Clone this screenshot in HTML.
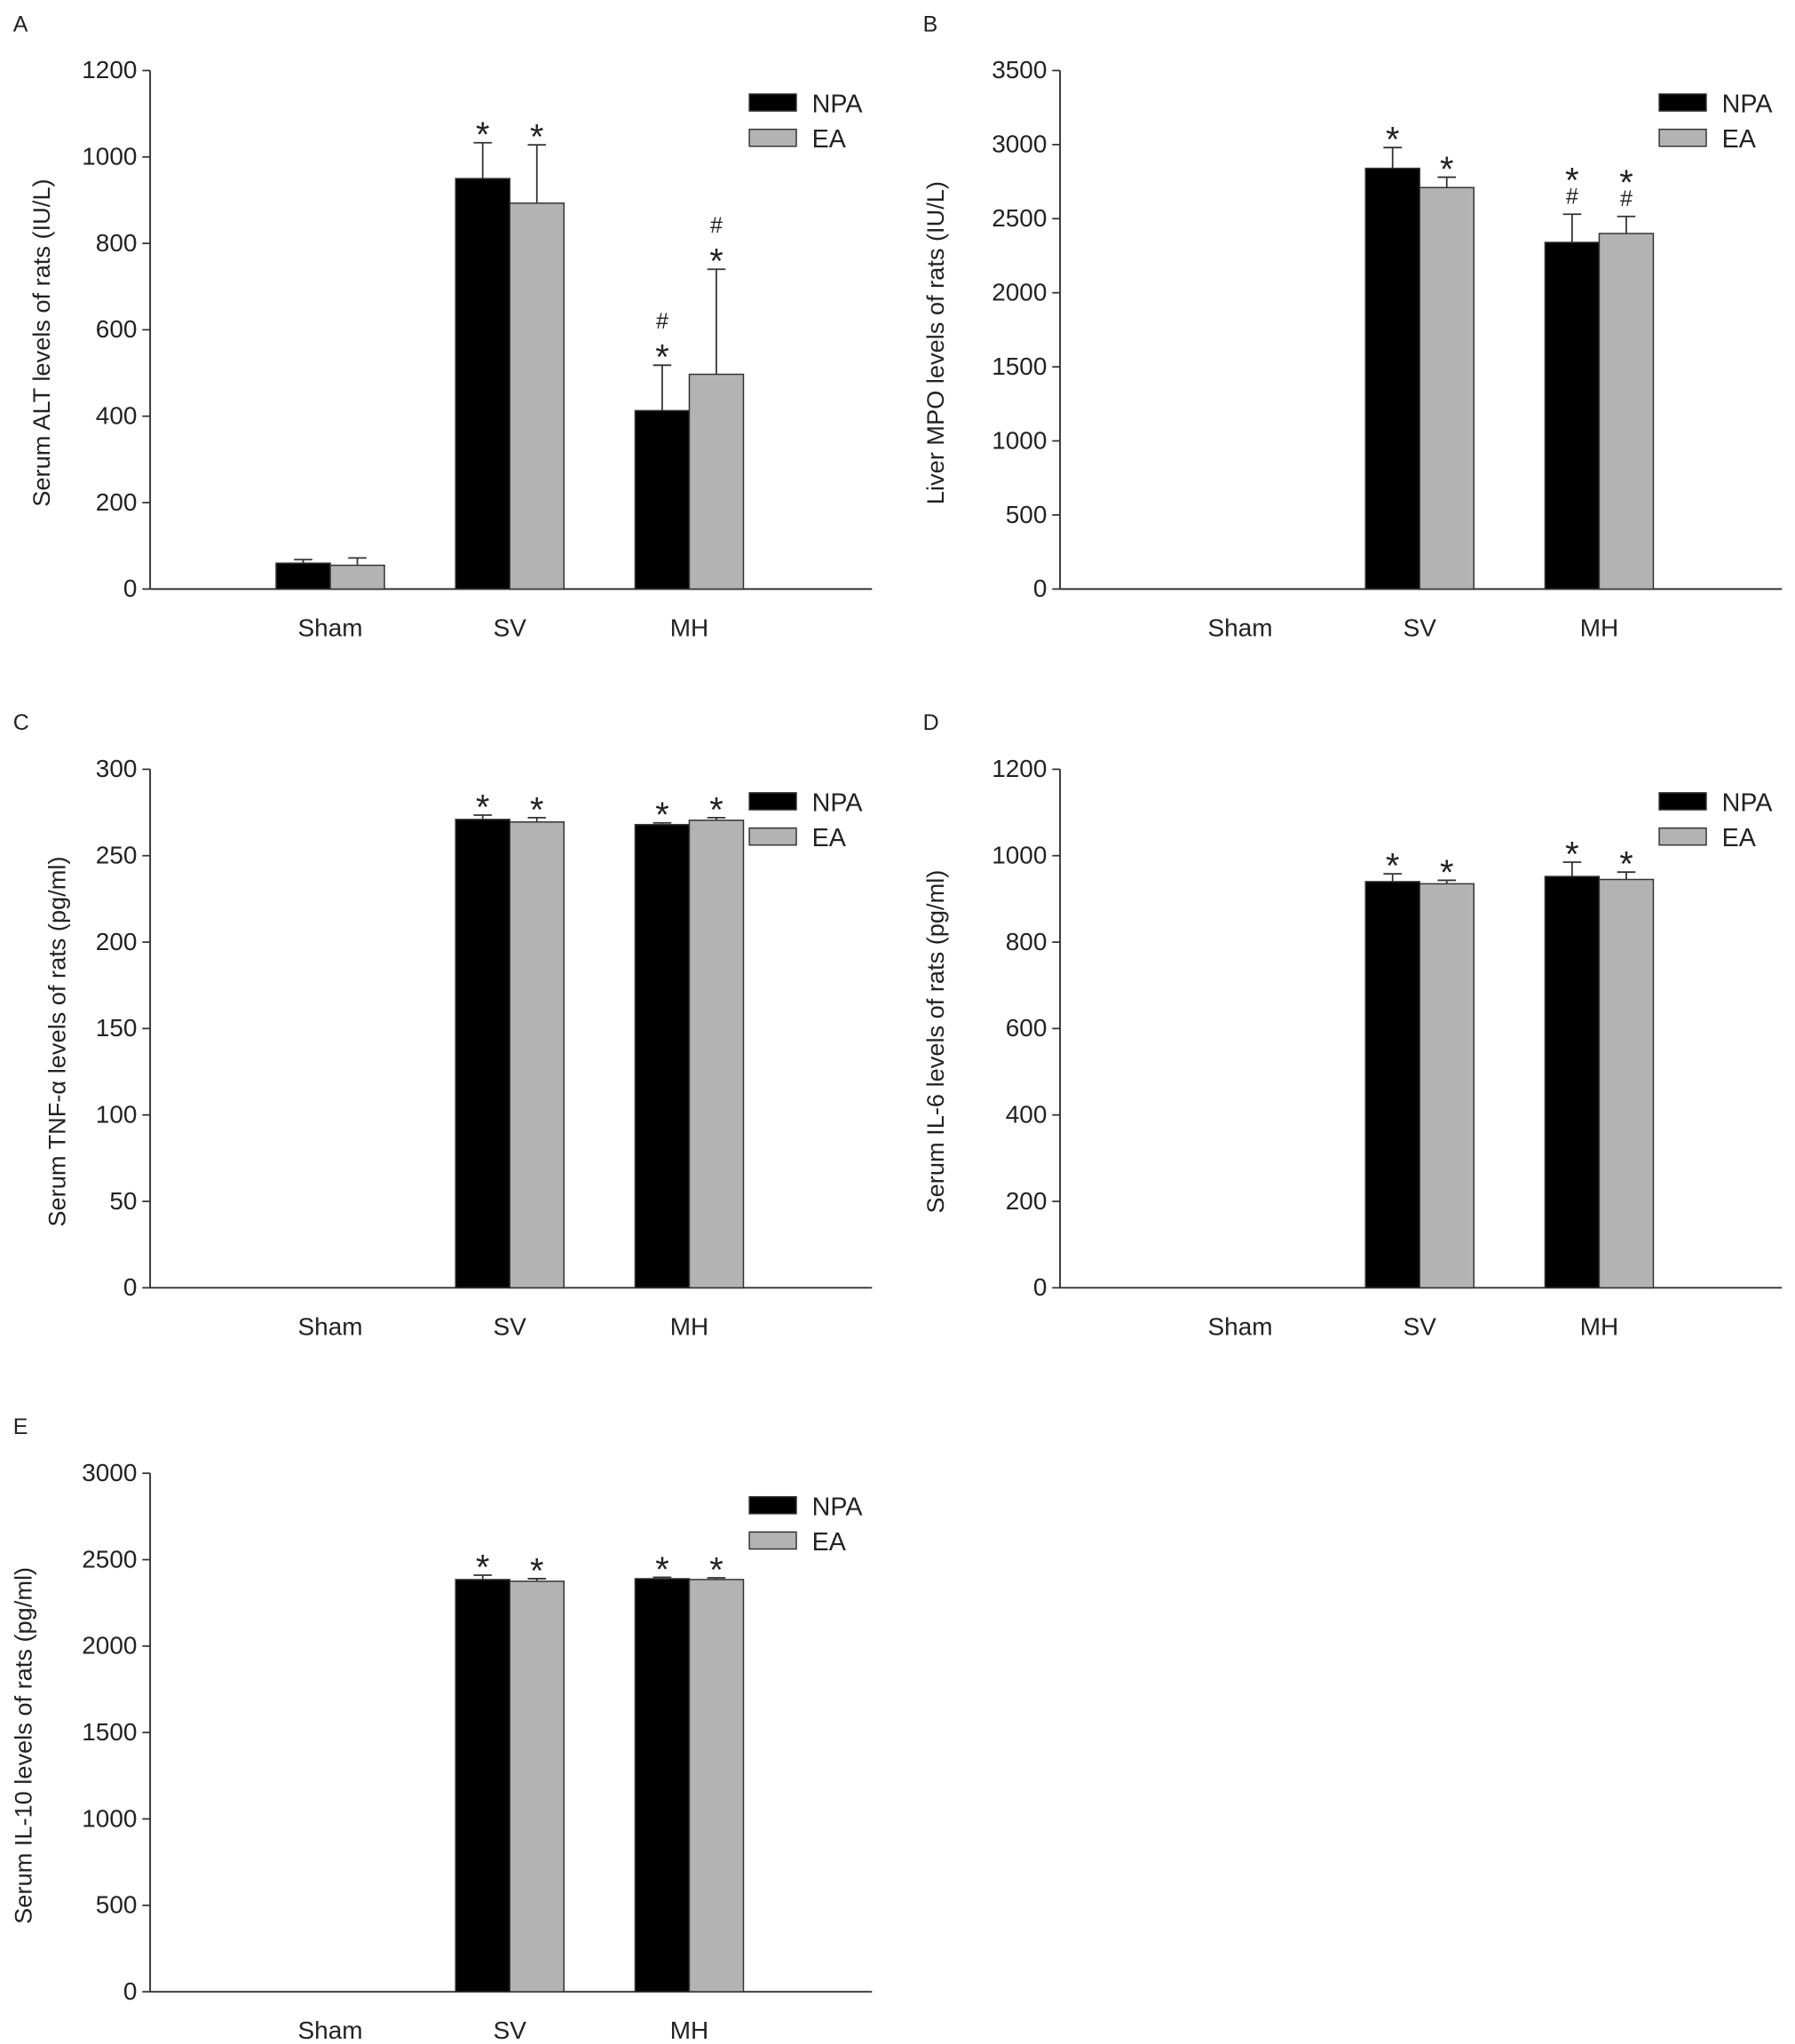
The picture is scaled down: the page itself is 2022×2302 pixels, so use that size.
<!DOCTYPE html>
<html><head><meta charset="utf-8"><style>
html,body{margin:0;padding:0;background:#fff;}
svg{display:block;font-family:"Liberation Sans",Arial,sans-serif;}
</style></head><body>
<svg id="fig" width="2022" height="2302" viewBox="0 0 1375 1565" preserveAspectRatio="none"></svg>
<script>
const categories = ["Sham","SV","MH"];
const seriesNames = ["NPA","EA"];
// Panel A
const aNPA = [60, 950, 413];
const aNPAerr = [8, 83, 105];
const aEA = [55, 893, 497];
const aEAerr = [17, 135, 243];
const aTicks = [0,200,400,600,800,1000,1200];
// Panel B
const bNPA = [0, 2840, 2340];
const bNPAerr = [0, 140, 190];
const bEA = [0, 2710, 2400];
const bEAerr = [0, 70, 115];
const bTicks = [0,500,1000,1500,2000,2500,3000,3500];
// Panel C
const cNPA = [0, 271, 268];
const cNPAerr = [0, 2.5, 1];
const cEA = [0, 269.5, 270.5];
const cEAerr = [0, 2.5, 1.5];
const cTicks = [0,50,100,150,200,250,300];
// Panel D
const dNPA = [0, 940, 952];
const dNPAerr = [0, 18, 33];
const dEA = [0, 935, 945];
const dEAerr = [0, 8, 17];
const dTicks = [0,200,400,600,800,1000,1200];
// Panel E
const eNPA = [0, 2385, 2390];
const eNPAerr = [0, 25, 8];
const eEA = [0, 2375, 2385];
const eEAerr = [0, 15, 10];
const eTicks = [0,500,1000,1500,2000,2500,3000];
const aMarks = [["",""],["*","*"],["#*","#*"]];
const bMarks = [["",""],["*","*"],["*#","*#"]];
const starMarks = [["",""],["*","*"],["*","*"]];

const NS="http://www.w3.org/2000/svg";
const svg=document.getElementById('fig');
function mk(tag,attrs,parent){const e=document.createElementNS(NS,tag);for(const k in attrs)e.setAttribute(k,attrs[k]);(parent||svg).appendChild(e);return e;}

function panel(cfg){
  const g=mk('g',{});
  
  
  const x0=cfg.x0, x1=cfg.x0+553, yTop=cfg.yTop, yBot=cfg.yTop+397;
  const max=cfg.ticks[cfg.ticks.length-1];
  const yS=v=>yBot-(v/max)*(yBot-yTop);
  const catX=i=>x0+138+i*137.5;
  const bw=41.5;
  const lt=mk('text',{x:cfg.x0-105,y:yTop-30,'font-size':17,fill:'#222'},g);lt.textContent=cfg.letter;
  
  
  const ya=mk('line',{x1:x0,y1:yTop,x2:x0,y2:yBot,stroke:'#333','stroke-width':1.3},g);
  
  
  const xa=mk('line',{x1:x0,y1:yBot,x2:x1,y2:yBot,stroke:'#333','stroke-width':1.3},g);
  
  
  cfg.ticks.forEach(t=>{
    mk('line',{x1:x0-6,y1:yS(t),x2:x0,y2:yS(t),stroke:'#333','stroke-width':1.2},g);
    const tx=mk('text',{x:x0-10,y:yS(t)+6,'font-size':19,'text-anchor':'end',fill:'#222'},g);tx.textContent=t;
    
    
  });
  const yt=mk('text',{x:0,y:0,'font-size':18.5,'text-anchor':'middle',fill:'#222',transform:`translate(${cfg.titleX},${(yTop+yBot)/2+10}) rotate(-90)`},g);
  yt.textContent=cfg.title;
  
  
  categories.forEach((c,i)=>{
    const ct=mk('text',{x:catX(i),y:yBot+36,'font-size':19,'text-anchor':'middle',fill:'#222'},g);ct.textContent=c;
    
    
    [[cfg.npa,cfg.npaErr,'#000',0],[cfg.ea,cfg.eaErr,'#b3b3b3',1]].forEach(([vals,errs,col,s])=>{
      const v=vals[i]; if(!v) return;
      const bx=catX(i)-bw+s*bw;
      const r=mk('rect',{x:bx,y:yS(v),width:bw,height:yBot-yS(v),fill:col,stroke:'#333','stroke-width':1},g);
      
      
      const cx=bx+bw/2, ey=yS(v+errs[i]);
      mk('line',{x1:cx,y1:yS(v),x2:cx,y2:ey,stroke:'#333','stroke-width':1.2},g);
      mk('line',{x1:cx-7,y1:ey,x2:cx+7,y2:ey,stroke:'#333','stroke-width':1.2},g);
      const m=cfg.marks[i][s]; let yy=ey-8;
      for(let k=m.length-1;k>=0;k--){
        const ch=m[k];
        const at=mk('text',{x:cx,y:ch==='*'?yy+11:yy,'font-size':ch==='*'?27:17,'text-anchor':'middle',fill:'#222'},g);at.textContent=ch;
        
        
        yy-=20;
      }
    });
  });
  const lx=x1-94;
  seriesNames.forEach((n,s)=>{
    const ly=yTop+25+s*27;
    const sw=mk('rect',{x:lx,y:ly-7,width:36,height:13,fill:s?'#b3b3b3':'#000',stroke:'#333','stroke-width':1},g);
    
    
    const tx=mk('text',{x:lx+48,y:ly+7,'font-size':19.5,fill:'#222'},g);tx.textContent=n;
    
    
  });
}
panel({letter:'A',x0:115,yTop:54,ticks:aTicks,npa:aNPA,npaErr:aNPAerr,ea:aEA,eaErr:aEAerr,marks:aMarks,title:'Serum ALT levels of rats (IU/L)',titleX:38});
panel({letter:'B',x0:812,yTop:54,ticks:bTicks,npa:bNPA,npaErr:bNPAerr,ea:bEA,eaErr:bEAerr,marks:bMarks,title:'Liver MPO levels of rats (IU/L)',titleX:723});
panel({letter:'C',x0:115,yTop:589,ticks:cTicks,npa:cNPA,npaErr:cNPAerr,ea:cEA,eaErr:cEAerr,marks:starMarks,title:'Serum TNF-α  levels of rats (pg/ml)',titleX:50});
panel({letter:'D',x0:812,yTop:589,ticks:dTicks,npa:dNPA,npaErr:dNPAerr,ea:dEA,eaErr:dEAerr,marks:starMarks,title:'Serum IL-6 levels of rats (pg/ml)',titleX:723});
panel({letter:'E',x0:115,yTop:1128,ticks:eTicks,npa:eNPA,npaErr:eNPAerr,ea:eEA,eaErr:eEAerr,marks:starMarks,title:'Serum IL-10 levels of rats (pg/ml)',titleX:24});
</script>
</body></html>
